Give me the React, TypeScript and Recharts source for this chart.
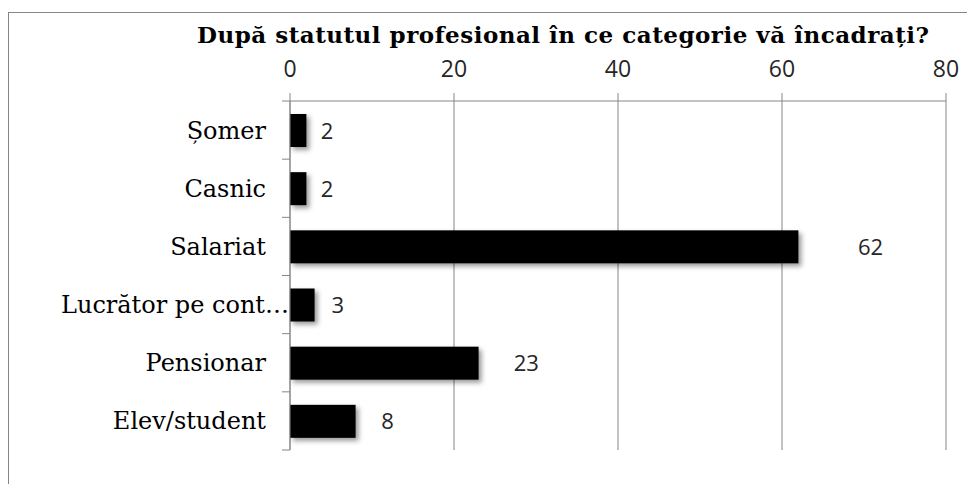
import React from 'react';
import { BarChart, Bar, XAxis, YAxis, CartesianGrid, LabelList } from 'recharts';

const categories = ['Șomer', 'Casnic', 'Salariat', 'Lucrător pe cont…', 'Pensionar', 'Elev/student'];
const values = [2, 2, 62, 3, 23, 8];
const xTicks = [0, 20, 40, 60, 80];
const title = 'După statutul profesional în ce categorie vă încadrați?';

const data = categories.map((c, i) => ({ name: c, value: values[i] }));

const W = 967;
const H = 476;
const MARGIN = { top: 53, right: 29, bottom: 34, left: 0 };
const X_AXIS_H = 40;
const Y_AXIS_W = 282;
const PLOT_H = H - MARGIN.top - MARGIN.bottom - X_AXIS_H;
const BAND = PLOT_H / categories.length;
const GRAY = '#868686';
const LABEL_FONT = "'DejaVu Serif', 'Liberation Serif', serif";

const CategoryTick = (props: any) => {
  const { x, y, payload, index } = props;
  const label = String(payload.value);
  const truncated = label.endsWith('…');
  return (
    <g>
      <line x1={x - 8} x2={x} y1={y - BAND / 2} y2={y - BAND / 2} stroke={GRAY} strokeWidth={1} />
      {index === categories.length - 1 && (
        <line x1={x - 8} x2={x} y1={y + BAND / 2} y2={y + BAND / 2} stroke={GRAY} strokeWidth={1} />
      )}
      <text
        x={truncated ? x - 1 : x - 24}
        y={y}
        dy={8.5}
        textAnchor="end"
        fontFamily={LABEL_FONT}
        fontSize={24}
        fill="#000"
      >
        {label}
      </text>
    </g>
  );
};

const ShadowBar = (props: any) => {
  const { x, y, width, height } = props;
  return (
    <rect
      x={x}
      y={y}
      width={width}
      height={height}
      fill="#000"
      style={{ filter: 'drop-shadow(3px 3px 2.5px rgba(0,0,0,0.4))' }}
    />
  );
};

const ValueLabel = (props: any) => {
  const { x, y, width, height, value } = props;
  const cx = x + width + 9.3 + 2.79 * Math.sqrt(width);
  return (
    <text
      x={cx}
      y={y + height / 2}
      dy={8}
      textAnchor="middle"
      fontFamily="'Open Sans', sans-serif"
      fontSize={22}
      fill="#262626"
    >
      {value}
    </text>
  );
};

export default function App() {
  return (
    <div style={{ position: 'relative', width: W, height: H }}>
      <div
        style={{
          position: 'absolute',
          left: 0,
          top: 4,
          width: W,
          height: H - 4,
          borderTop: `1px solid ${GRAY}`,
          borderLeft: `1px solid ${GRAY}`,
          boxSizing: 'border-box',
        }}
      />
      <svg style={{ position: 'absolute', left: 0, top: 0 }} width={W} height={60}>
        <text
          x={189}
          y={35}
          fontFamily={LABEL_FONT}
          fontWeight="bold"
          fontSize={23}
          textLength={732}
          lengthAdjust="spacing"
          fill="#000"
        >
          {title}
        </text>
      </svg>
      <div style={{ position: 'absolute', left: 0, top: 0 }}>
        <BarChart width={W} height={H} data={data} layout="vertical" margin={MARGIN}>
          <CartesianGrid horizontal={false} vertical={true} stroke={GRAY} strokeWidth={1} />
          <XAxis
            type="number"
            orientation="top"
            domain={[0, 80]}
            ticks={xTicks}
            height={X_AXIS_H}
            tickSize={8}
            tickMargin={16}
            stroke={GRAY}
            axisLine={{ stroke: GRAY }}
            tickLine={{ stroke: GRAY }}
            tick={{ fill: '#262626', fontFamily: "'Open Sans', sans-serif", fontSize: 23 }}
          />
          <YAxis
            type="category"
            dataKey="name"
            width={Y_AXIS_W}
            tickLine={false}
            tickSize={0}
            tickMargin={0}
            axisLine={{ stroke: GRAY }}
            tick={<CategoryTick />}
            interval={0}
          />
          <Bar dataKey="value" barSize={33} shape={<ShadowBar />} isAnimationActive={false}>
            <LabelList dataKey="value" content={<ValueLabel />} />
          </Bar>
        </BarChart>
      </div>
    </div>
  );
}
